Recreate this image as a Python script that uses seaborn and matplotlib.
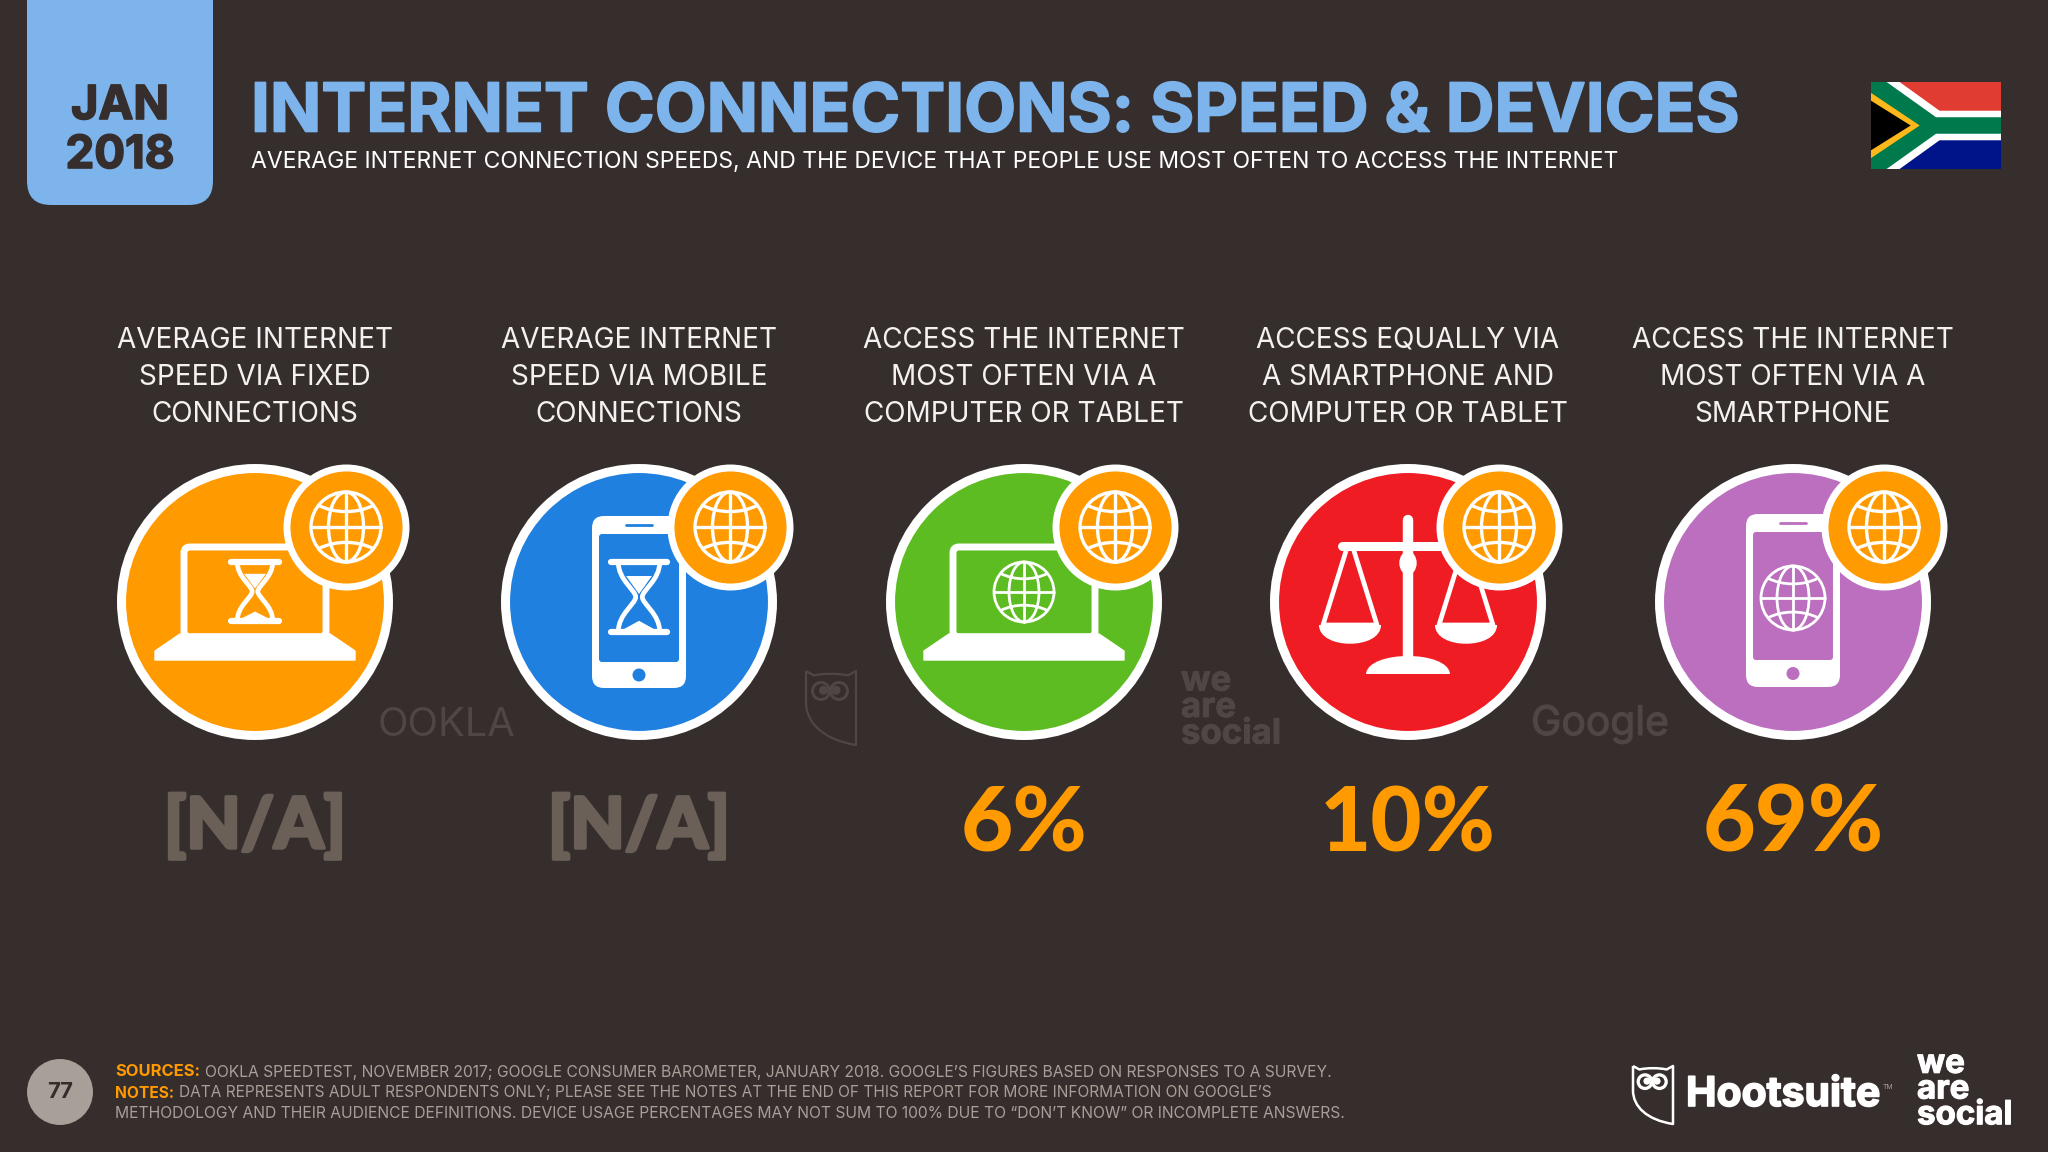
import pandas as pd
import matplotlib
matplotlib.use("Agg")
import matplotlib.pyplot as plt
import matplotlib.patheffects as pe
import seaborn as sns
from matplotlib.patches import Circle, Ellipse, FancyBboxPatch, PathPatch, Polygon
from matplotlib.path import Path

# chart content
DATE_MONTH = "JAN"
DATE_YEAR = "2018"
TITLE = "INTERNET CONNECTIONS: SPEED & DEVICES"
SUBTITLE = "AVERAGE INTERNET CONNECTION SPEEDS, AND THE DEVICE THAT PEOPLE USE MOST OFTEN TO ACCESS THE INTERNET"
categories = [
    "AVERAGE INTERNET\nSPEED VIA FIXED\nCONNECTIONS",
    "AVERAGE INTERNET\nSPEED VIA MOBILE\nCONNECTIONS",
    "ACCESS THE INTERNET\nMOST OFTEN VIA A\nCOMPUTER OR TABLET",
    "ACCESS EQUALLY VIA\nA SMARTPHONE AND\nCOMPUTER OR TABLET",
    "ACCESS THE INTERNET\nMOST OFTEN VIA A\nSMARTPHONE",
]
values = [None, None, 6, 10, 69]
SOURCES = "OOKLA SPEEDTEST, NOVEMBER 2017; GOOGLE CONSUMER BAROMETER, JANUARY 2018. GOOGLE\u2019S FIGURES BASED ON RESPONSES TO A SURVEY."
NOTES_1 = "DATA REPRESENTS ADULT RESPONDENTS ONLY; PLEASE SEE THE NOTES AT THE END OF THIS REPORT FOR MORE INFORMATION ON GOOGLE\u2019S"
NOTES_2 = "METHODOLOGY AND THEIR AUDIENCE DEFINITIONS. DEVICE USAGE PERCENTAGES MAY NOT SUM TO 100% DUE TO \u201cDON\u2019T KNOW\u201d OR INCOMPLETE ANSWERS."

# styling
BG = "#362e2c"
BLUE = "#7db4ec"
ORANGE = "#ff9a00"
MUTED = "#6b6058"
GREY = "#a89f98"
WATERMARK = "#4e4745"
disc_colors = ["#ff9a00", "#2080e0", "#5cbc21", "#ef1c23", "#bb6fbe"]
column_x = [255, 639, 1024, 1408, 1793]
WHITE = "#ffffff"
HEAVY = "Inter"
LIGHT = "Inter"
BIG_NUM = "Lato"

sns.set_theme(style="dark", rc={"figure.facecolor": BG, "axes.facecolor": BG})
plt.rcParams["font.family"] = ["Inter", "DejaVu Sans"]

fig = plt.figure(figsize=(20.48, 11.52), dpi=100)
ax = fig.add_axes([0, 0, 1, 1])
ax.set_xlim(0, 2048)
ax.set_ylim(1152, 0)
ax.axis("off")


def label(x, y, s, width=None, size=20, color=WHITE, weight="normal", family=LIGHT, ha="center", stroke=0, **kw):
    """Text in pixel coordinates, optionally scaled to a target pixel width."""
    t = ax.text(x, y, s, fontsize=size, color=color, fontweight=weight, family=family,
                ha=ha, va="center", zorder=8, **kw)
    if width is not None:
        # two passes because hinting makes the width not quite linear in size
        for _ in range(2):
            w = t.get_window_extent(fig.canvas.get_renderer()).width
            t.set_fontsize(t.get_fontsize() * width / w)
    if stroke:
        t.set_path_effects([pe.withStroke(linewidth=stroke, foreground=color)])
    return t


def draw_globe(cx, cy, r, color=WHITE, lw=2.2, z=6):
    style = dict(fill=False, edgecolor=color, linewidth=lw, zorder=z)
    ax.add_patch(Circle((cx, cy), r, **style))
    ax.add_patch(Ellipse((cx, cy), r * 1.0, r * 2, **style))
    ax.plot([cx, cx], [cy - r, cy + r], color=color, lw=lw, zorder=z)
    ax.plot([cx - r, cx + r], [cy, cy], color=color, lw=lw, zorder=z)
    # latitude arcs near the poles
    for sign in (-1, 1):
        y_edge = cy + sign * r * 0.62
        x_edge = r * 0.785
        verts = [(cx - x_edge, y_edge), (cx - x_edge * 0.4, cy + sign * r * 0.38),
                 (cx + x_edge * 0.4, cy + sign * r * 0.38), (cx + x_edge, y_edge)]
        path = Path(verts, [Path.MOVETO, Path.CURVE4, Path.CURVE4, Path.CURVE4])
        ax.add_patch(PathPatch(path, fill=False, edgecolor=color, linewidth=lw, zorder=z))


def draw_hourglass(cx, top, bottom, half_w):
    mid = (top + bottom) / 2
    h = bottom - top
    for y in (top, bottom):
        ax.plot([cx - half_w, cx + half_w], [y, y], color=WHITE, lw=4.5, solid_capstyle="round", zorder=6)
    w = half_w * 0.74
    for sx in (-1, 1):
        verts = [(cx + sx * w, top), (cx + sx * w, top + h * 0.26), (cx + sx * w * 0.16, mid - h * 0.1), (cx + sx * w * 0.16, mid),
                 (cx + sx * w * 0.16, mid + h * 0.1), (cx + sx * w, bottom - h * 0.26), (cx + sx * w, bottom)]
        codes = [Path.MOVETO] + [Path.CURVE4] * 6
        ax.add_patch(PathPatch(Path(verts, codes), fill=False, edgecolor=WHITE, linewidth=3.4, zorder=6))
    ax.add_patch(Polygon([(cx - w * 0.62, top + h * 0.2), (cx + w * 0.62, top + h * 0.2), (cx, mid - 3)], color=WHITE, zorder=6, lw=0))
    ax.add_patch(Polygon([(cx - w * 0.72, bottom - 3), (cx + w * 0.72, bottom - 3), (cx, bottom - h * 0.16)], color=WHITE, zorder=6, lw=0))


def draw_laptop(cx):
    ax.add_patch(FancyBboxPatch((cx - 71, 547), 142, 90, boxstyle="round,pad=0,rounding_size=6",
                                fill=False, edgecolor=WHITE, linewidth=5, zorder=5))
    ax.add_patch(Polygon([(cx - 100, 651), (cx - 75, 634), (cx + 75, 634), (cx + 100, 651),
                          (cx + 100, 660), (cx - 100, 660)], closed=True, color=WHITE, zorder=5, lw=1,
                         joinstyle="round"))


def draw_phone(cx, top, bottom, screen_top, screen_bottom, color):
    ax.add_patch(FancyBboxPatch((cx - 47, top), 94, bottom - top, boxstyle="round,pad=0,rounding_size=12",
                                facecolor=WHITE, edgecolor="none", zorder=4))
    ax.add_patch(FancyBboxPatch((cx - 40, screen_top), 80, screen_bottom - screen_top,
                                boxstyle="round,pad=0,rounding_size=3", facecolor=color, edgecolor="none", zorder=4.5))
    ax.add_patch(Circle((cx, (screen_bottom + bottom) / 2), 6.5, color=color, zorder=5, lw=0))
    ax.plot([cx - 13, cx + 13], [(top + screen_top) / 2, (top + screen_top) / 2], color=color, lw=2, zorder=5)


def draw_scales(cx):
    ax.plot([cx, cx], [520, 660], color=WHITE, lw=7.5, solid_capstyle="round", zorder=5)
    ax.plot([cx - 66, cx + 66], [546, 546], color=WHITE, lw=6.5, solid_capstyle="round", zorder=5)
    ax.add_patch(Ellipse((cx, 563), 16, 22, color=WHITE, zorder=5))
    base = Path([(cx - 42, 674), (cx - 40, 650), (cx + 40, 650), (cx + 42, 674), (cx - 42, 674)],
                [Path.MOVETO, Path.CURVE4, Path.CURVE4, Path.CURVE4, Path.CLOSEPOLY])
    ax.add_patch(PathPatch(base, color=WHITE, zorder=5, lw=0))
    for pan_x in (cx - 58, cx + 58):
        apex = 551
        ax.plot([pan_x - 4, pan_x - 27, pan_x + 27, pan_x + 4], [apex, 625, 625, apex],
                color=WHITE, lw=3.4, zorder=5)
        bowl = Path([(pan_x - 31, 625), (pan_x - 31, 650), (pan_x + 31, 650), (pan_x + 31, 625), (pan_x - 31, 625)],
                    [Path.MOVETO, Path.CURVE4, Path.CURVE4, Path.CURVE4, Path.CLOSEPOLY])
        ax.add_patch(PathPatch(bowl, color=WHITE, zorder=5, lw=0))


def draw_owl(x0, y0, w, h, color, lw):
    verts = [(x0, y0), (x0 + w * 0.16, y0 + h * 0.06), (x0 + w * 0.35, y0 + h * 0.03), (x0 + w * 0.65, y0 + h * 0.03),
             (x0 + w * 0.84, y0 + h * 0.06), (x0 + w, y0), (x0 + w, y0 + h), (x0 + w * 0.35, y0 + h * 0.93),
             (x0, y0 + h * 0.7), (x0, y0 + h * 0.42), (x0, y0)]
    codes = [Path.MOVETO, Path.LINETO, Path.CURVE4, Path.CURVE4, Path.LINETO, Path.LINETO, Path.LINETO,
             Path.CURVE4, Path.CURVE4, Path.CURVE4, Path.LINETO]
    ax.add_patch(PathPatch(Path(verts, codes), fill=False, edgecolor=color, linewidth=lw, zorder=6, joinstyle="round"))
    for ex, pupil in ((0.3, 0.35), (0.66, 0.6)):
        ax.add_patch(Circle((x0 + w * ex, y0 + h * 0.27), w * 0.17, fill=False, edgecolor=color, linewidth=lw * 1.3, zorder=6))
        ax.add_patch(Circle((x0 + w * pupil, y0 + h * 0.26), w * 0.09, color=color, zorder=6, lw=0))


def draw_flag(x0, y0, w, h):
    def pts(rel):
        return [(x0 + a * w, y0 + b * h) for a, b in rel]
    ax.add_patch(Polygon(pts([(0, 0), (1, 0), (1, 0.5), (0, 0.5)]), color="#e03c31", lw=0, zorder=3))
    ax.add_patch(Polygon(pts([(0, 0.5), (1, 0.5), (1, 1), (0, 1)]), color="#001489", lw=0, zorder=3))
    ax.add_patch(Polygon(pts([(0, 0), (0.22, 0), (0.527, 0.33), (1, 0.33), (1, 0.67), (0.527, 0.67), (0.22, 1), (0, 1)]),
                         color=WHITE, lw=0, zorder=3.1))
    ax.add_patch(Polygon(pts([(0, 0), (0.12, 0), (0.5, 0.405), (1, 0.405), (1, 0.595), (0.5, 0.595), (0.12, 1), (0, 1)]),
                         color="#007a4d", lw=0, zorder=3.2))
    ax.add_patch(Polygon(pts([(0, 0.125), (0.375, 0.5), (0, 0.875)]), color="#ffb81c", lw=0, zorder=3.3))
    ax.add_patch(Polygon(pts([(0, 0.215), (0.305, 0.5), (0, 0.785)]), color="#000000", lw=0, zorder=3.4))


# header tab and titles
ax.add_patch(FancyBboxPatch((27, -60), 186, 265, boxstyle="round,pad=0,rounding_size=24", facecolor=BLUE, edgecolor="none", zorder=2))
label(120, 107, DATE_MONTH, width=98, color=BG, weight="bold", family=HEAVY, stroke=1.2)
label(120, 156, DATE_YEAR, width=109, color=BG, weight="bold", family=HEAVY, stroke=1.2)
label(251, 114, TITLE, width=1490, color=BLUE, weight="bold", family=HEAVY, ha="left", stroke=1.2)
label(251, 162, SUBTITLE, width=1368, color=WHITE, ha="left")
draw_flag(1871, 82, 130, 87)

# main discs, one per category, drawn on the pixel-space axes
df = pd.DataFrame({"category": categories, "x": column_x, "y": 602})
sns.scatterplot(data=df, x="x", y="y", hue="category", palette=disc_colors, s=36940,
                edgecolor=WHITE, linewidth=6.5, legend=False, ax=ax, zorder=3)
df_badge = pd.DataFrame({"x": [x + 91 for x in column_x], "y": 527})
sns.scatterplot(data=df_badge, x="x", y="y", color=ORANGE, s=7345, edgecolor=WHITE, linewidth=5,
                legend=False, ax=ax, zorder=7)
ax.set_xlim(0, 2048)
ax.set_ylim(1152, 0)
ax.set_xlabel("")
ax.set_ylabel("")

value_widths = {6: 127, 10: 176, 69: 181}
for x, cat, val in zip(column_x, categories, values):
    for j, line in enumerate(cat.split("\n")):
        label(x, 340 + j * 37.2, line, size=20.1, color="#f4f2f0")
    if val is None:
        label(x, 827, "[N/A]", width=182, color=MUTED, weight="black", family=BIG_NUM, stroke=2.5)
    else:
        label(x, 826, f"{val}%", width=value_widths[val], color=ORANGE, weight="black", family=BIG_NUM)
    # badge globe sits on top of the badge disc
    draw_globe(x + 91, 527, 35, lw=2.4, z=7.5)

# icons inside the discs
draw_laptop(column_x[0])
draw_hourglass(column_x[0], 562, 621, 24)

draw_phone(column_x[1], 516, 688, 534, 662, disc_colors[1])
draw_hourglass(column_x[1], 562, 632, 28)

draw_laptop(column_x[2])
draw_globe(column_x[2], 592, 30, lw=2)

draw_scales(column_x[3])

draw_phone(column_x[4], 514, 687, 532, 660, disc_colors[4])
draw_globe(column_x[4], 598, 32, lw=2)

# faint source watermarks
label(447, 726, "OOKLA", width=138, color=WATERMARK)
label(1600, 724, "Google", width=138, color=WATERMARK, stroke=0.8)
label(1181, 708, "we\nare\nsocial", width=100, color=WATERMARK, weight="bold", ha="left", linespacing=0.78,
      multialignment="left", stroke=0.6)
draw_owl(806, 671, 50, 74, WATERMARK, 1.6)

# footer
ax.add_patch(Circle((60, 1092), 33, color=GREY, zorder=3, lw=0))
label(60, 1092, "77", size=16, color=BG, weight="bold", family=HEAVY)
label(115, 1072, "SOURCES:", width=85, color=ORANGE, weight="bold", family=HEAVY, ha="left")
label(205, 1072, SOURCES, width=1129, color=GREY, ha="left")
label(115, 1093, "NOTES:", width=59, color=ORANGE, weight="bold", family=HEAVY, ha="left")
label(179, 1093, NOTES_1, width=1092, color=GREY, ha="left")
label(115, 1114, NOTES_2, width=1230, color=GREY, ha="left")

# bottom right logos
draw_owl(1633, 1066, 40, 58, WHITE, 1.8)
label(1686, 1095, "Hootsuite", width=194, color=WHITE, weight="bold", family=HEAVY, ha="left", stroke=1.2)
label(1883, 1087, "TM", size=5, color=GREY, ha="left")
label(1917, 1090, "we\nare\nsocial", width=95, color=WHITE, weight="bold", family=HEAVY, ha="left",
      linespacing=0.78, multialignment="left", stroke=0.8)

fig.savefig("out.png", dpi=100, facecolor=BG)
